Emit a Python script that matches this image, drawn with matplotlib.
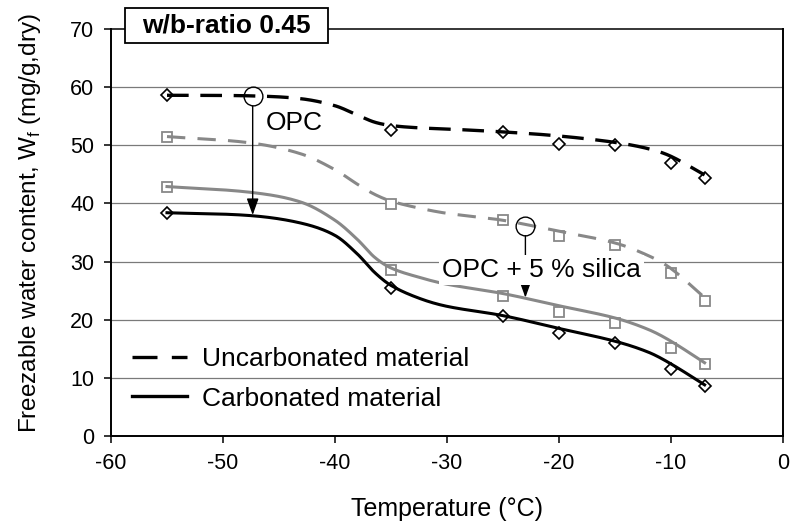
import numpy as np
import matplotlib
matplotlib.use("Agg")
import matplotlib.pyplot as plt
from matplotlib.lines import Line2D
from matplotlib.patches import Rectangle

plt.rcParams['font.family'] = ['Liberation Sans', 'DejaVu Sans']
plt.rcParams['axes.unicode_minus'] = False

# ---- measured points (markers) ----
temp = [-55, -35, -25, -20, -15, -10, -7]
uncarb_opc = [58.6, 52.6, 52.2, 50.2, 50.0, 47.0, 44.4]
uncarb_silica = [51.5, 39.9, 37.2, 34.4, 32.9, 28.1, 23.3]
carb_silica = [42.9, 28.6, 24.1, 21.3, 19.4, 15.2, 12.3]
carb_opc = [38.3, 25.5, 20.6, 17.7, 16.0, 11.5, 8.6]

# ---- fitted curves ----
curve_t = [-55, -47.5, -43, -40, -38, -36.5, -35, -32.5, -30, -25, -20, -15, -12, -10, -7]
curve_uncarb_opc = [58.6, 58.5, 58.0, 56.8, 55.2, 54.0, 53.4, 53.0, 52.8, 52.3, 51.6, 50.5, 49.4, 48.1, 44.9]
curve_uncarb_silica = [51.5, 50.4, 48.5, 45.8, 43.3, 41.6, 40.4, 39.2, 38.3, 37.1, 35.2, 33.2, 31.0, 28.8, 23.8]
curve_carb_silica = [42.9, 41.9, 40.2, 37.1, 33.8, 30.8, 28.9, 27.3, 26.1, 24.5, 22.4, 20.3, 18.3, 16.3, 12.6]
curve_carb_opc = [38.4, 37.9, 36.6, 34.5, 31.3, 28.2, 25.9, 23.7, 22.3, 20.7, 18.5, 16.3, 14.4, 12.4, 8.8]

# ---- annotations ----
opc_arrow = (-47.35, 58.4, 38.0)       # x, circle y, arrow tip y
silica_arrow = (-23.0, 36.1, 23.8)
opc_label = ("OPC", -43.6, 53.75)
silica_label = ("OPC + 5 % silica", -21.55, 28.5)
title_text = "w/b-ratio 0.45"
legend_labels = ["Uncarbonated material", "Carbonated material"]
yticks = [0, 10, 20, 30, 40, 50, 60, 70]
xticks = [-60, -50, -40, -30, -20, -10, 0]

GRAY = '#888888'


def smooth(x, y, n=500):
    x = np.asarray(x, float); y = np.asarray(y, float)
    h = np.diff(x)
    m = np.zeros_like(y)
    m[1:-1] = (y[2:] - y[:-2]) / (x[2:] - x[:-2])
    m[0] = (y[1] - y[0]) / h[0]
    m[-1] = (y[-1] - y[-2]) / h[-1]
    xs = np.linspace(x[0], x[-1], n)
    idx = np.clip(np.searchsorted(x, xs) - 1, 0, len(h) - 1)
    t = (xs - x[idx]) / h[idx]
    h00 = 2 * t**3 - 3 * t**2 + 1; h10 = t**3 - 2 * t**2 + t
    h01 = -2 * t**3 + 3 * t**2; h11 = t**3 - t**2
    ys = h00 * y[idx] + h10 * h[idx] * m[idx] + h01 * y[idx + 1] + h11 * h[idx] * m[idx + 1]
    return xs, ys


fig = plt.figure(figsize=(7.91, 5.27), dpi=100)
ax = fig.add_axes([111 / 791, 1 - 436 / 527, 672 / 791, 407 / 527])
ax.set_xlim(-60, 0)
ax.set_ylim(0, 70)

for v in yticks[1:-1]:
    ax.axhline(v, color='#7a7a7a', lw=0.9, zorder=1)

# markers
ax.plot(temp, uncarb_opc, ls='none', marker='D', ms=6, mfc='white', mec='k', mew=1.2, zorder=3)
ax.plot(temp, carb_opc, ls='none', marker='D', ms=6, mfc='white', mec='k', mew=1.2, zorder=3)
ax.plot(temp, uncarb_silica, ls='none', marker='s', ms=7.5, mfc='white', mec=GRAY, mew=1.3, zorder=3)
ax.plot(temp, carb_silica, ls='none', marker='s', ms=7.5, mfc='white', mec=GRAY, mew=1.3, zorder=3)

# curves
xs, ys = smooth(curve_t, curve_uncarb_opc)
ax.plot(xs, ys, color='k', lw=2.4, dashes=(6.5, 3.5), zorder=4)
xs, ys = smooth(curve_t, curve_uncarb_silica)
ax.plot(xs, ys, color=GRAY, lw=2.2, dashes=(6, 4), zorder=4)
xs, ys = smooth(curve_t, curve_carb_silica)
ax.plot(xs, ys, color=GRAY, lw=2.2, zorder=4)
xs, ys = smooth(curve_t, curve_carb_opc)
ax.plot(xs, ys, color='k', lw=2.2, zorder=4)

# annotation circles and arrows
for (x, yc, yt) in (opc_arrow, silica_arrow):
    ax.plot([x], [yc], ls='none', marker='o', ms=13.5, mfc='none', mec='k', mew=1.0, zorder=6)
    ax.annotate('', xy=(x, yt), xytext=(x, yc - 1.65),
                arrowprops=dict(arrowstyle='-|>,head_length=0.5,head_width=0.18',
                                mutation_scale=20, lw=1.0, color='k',
                                shrinkA=0, shrinkB=0), zorder=6)

ax.text(opc_label[1], opc_label[2], opc_label[0], fontsize=19, ha='center', va='center', zorder=7)
ax.text(silica_label[1], silica_label[2], silica_label[0], fontsize=19, ha='center', va='center',
        zorder=7, bbox=dict(boxstyle='square,pad=0.12', fc='white', ec='none'))

# title box
ax.add_patch(Rectangle((14 / 672, (436 - 43) / 407), 203 / 672, 35 / 407, transform=ax.transAxes,
                       fc='white', ec='k', lw=1.3, clip_on=False, zorder=10))
ax.text(115.5 / 672, (436 - 25.5) / 407, title_text, transform=ax.transAxes, fontsize=19,
        fontweight='bold', ha='center', va='center', zorder=11)

# legend
handles = [Line2D([], [], color='k', lw=2.4, dashes=(7.5, 4.3)),
           Line2D([], [], color='k', lw=2.4)]
ax.legend(handles, legend_labels, loc='upper left', bbox_to_anchor=(21 / 672, 0.219),
          frameon=False, fontsize=19, handlelength=2.1, handletextpad=0.55,
          labelspacing=0.6, borderpad=0, borderaxespad=0)

# axes styling
for s in ax.spines.values():
    s.set_color('k')
    s.set_linewidth(1.4)
ax.spines['top'].set_linewidth(1.1)
ax.set_xticks(xticks)
ax.set_yticks(yticks)
ax.tick_params(direction='out', length=5, width=1.1, labelsize=15.5, pad=7)
ax.set_xlabel('Temperature (°C)', fontsize=18)
ax.set_ylabel('Freezable water content, W$_\\mathregular{f}$ (mg/g,dry)', fontsize=17.5)
ax.xaxis.set_label_coords(0.5, -0.15)
ax.yaxis.set_label_coords(-0.101, 0.523)

fig.savefig('out.png', dpi=100)
